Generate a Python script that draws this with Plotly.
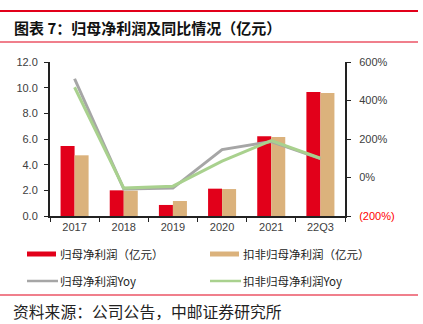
import plotly.graph_objects as go

categories = ["2017", "2018", "2019", "2020", "2021", "22Q3"]
net_profit = [5.46, 2.0, 0.86, 2.13, 6.21, 9.66]
deducted_profit = [4.73, 1.98, 1.17, 2.10, 6.16, 9.59]
net_profit_yoy = [513, -59, -55, 145, 187, 98]
deducted_yoy = [469, -55, -45, 85, 192, 100]
series_names = ["归母净利润（亿元）", "扣非归母净利润（亿元）", "归母净利润Yoy", "扣非归母净利润Yoy"]
left_ticks = [0, 2, 4, 6, 8, 10, 12]
right_ticks = [-200, 0, 200, 400, 600]
right_ticktext = ['<span style="color:#FF0000">(200%)</span>', "0%", "200%", "400%", "600%"]

RED = "#E2001A"
TAN = "#DBB27C"
GRAY = "#A6A6A6"
GREEN = "#A9D18E"
CJK = "Noto Sans CJK SC"

W, H = 423, 324
L, R, T, B = 50, 345, 62, 216


def px(x):
    return (x - L) / (R - L)


def py(y):
    return (B - y) / (B - T)


fig = go.Figure()
fig.add_bar(x=categories, y=net_profit, name=series_names[0], marker_color=RED,
            marker_line_width=0, offsetgroup="a")
fig.add_bar(x=categories, y=deducted_profit, name=series_names[1], marker_color=TAN,
            marker_line_width=0, offsetgroup="b")
fig.add_scatter(x=categories, y=net_profit_yoy, name=series_names[2], mode="lines",
                line=dict(color=GRAY, width=3), yaxis="y2")
fig.add_scatter(x=categories, y=deducted_yoy, name=series_names[3], mode="lines",
                line=dict(color=GREEN, width=3), yaxis="y2")

axis_font = dict(family="Liberation Sans, Arial", size=11, color="#404040")

fig.update_layout(
    width=W, height=H,
    margin=dict(l=L, r=W - R, t=T, b=H - B, pad=0),
    paper_bgcolor="white", plot_bgcolor="white",
    showlegend=False,
    barmode="group", bargap=0.43, bargroupgap=0,
    xaxis=dict(type="category", tickson="boundaries", ticks="outside", ticklen=4,
               tickcolor="#222", showline=True, linecolor="#222", linewidth=2,
               showgrid=False, tickfont=axis_font, fixedrange=True),
    yaxis=dict(range=[0, 12], tickvals=left_ticks, tickformat=".1f", ticks="outside",
               ticklen=4, tickcolor="#222", showline=True, linecolor="#222", linewidth=2,
               showgrid=False, zeroline=False, tickfont=axis_font, ticklabelstandoff=4),
    yaxis2=dict(range=[-200, 600], tickvals=right_ticks, ticktext=right_ticktext,
                overlaying="y", side="right", ticks="outside", ticklen=4, tickcolor="#222",
                showline=True, linecolor="#222", linewidth=2, showgrid=False,
                zeroline=False, tickfont=axis_font, ticklabelstandoff=6),
)

shapes = []
annotations = []
# title rules
shapes.append(dict(type="line", xref="paper", yref="paper", x0=px(0), x1=px(418),
                   y0=py(11), y1=py(11), line=dict(color=RED, width=2)))
shapes.append(dict(type="line", xref="paper", yref="paper", x0=px(0), x1=px(418),
                   y0=py(42), y1=py(42), line=dict(color=RED, width=1.2)))
shapes.append(dict(type="line", xref="paper", yref="paper", x0=px(0), x1=px(418),
                   y0=py(295), y1=py(295), line=dict(color=RED, width=1.2)))
annotations.append(dict(text="<b>图表 7：归母净利润及同比情况（亿元）</b>", xref="paper", yref="paper",
                        x=px(12), y=py(27), xanchor="left", yanchor="middle", showarrow=False,
                        font=dict(family=CJK, size=15, color="#111")))
annotations.append(dict(text="资料来源：公司公告，中邮证券研究所", xref="paper", yref="paper",
                        x=px(11), y=py(311), xanchor="left", yanchor="middle", showarrow=False,
                        font=dict(family=CJK, size=15.8, color="#222")))

# legend
legend_items = [
    (series_names[0], RED, "bar", 27, 254),
    (series_names[1], TAN, "bar", 210, 254),
    (series_names[2], GRAY, "line", 27, 281),
    (series_names[3], GREEN, "line", 210, 281),
]
for name, color, kind, x0, yc in legend_items:
    if kind == "bar":
        shapes.append(dict(type="rect", xref="paper", yref="paper", x0=px(x0), x1=px(x0 + 29),
                           y0=py(yc - 2.5), y1=py(yc + 2.5), fillcolor=color, line_width=0))
    else:
        shapes.append(dict(type="line", xref="paper", yref="paper", x0=px(x0), x1=px(x0 + 31),
                           y0=py(yc), y1=py(yc), line=dict(color=color, width=2.5)))
    annotations.append(dict(text=name, xref="paper", yref="paper", x=px(x0 + 31), y=py(yc),
                            xanchor="left", yanchor="middle", showarrow=False,
                            font=dict(family=CJK, size=11.5, color="#222")))

fig.update_layout(shapes=shapes, annotations=annotations)
fig.write_html("out.html")
